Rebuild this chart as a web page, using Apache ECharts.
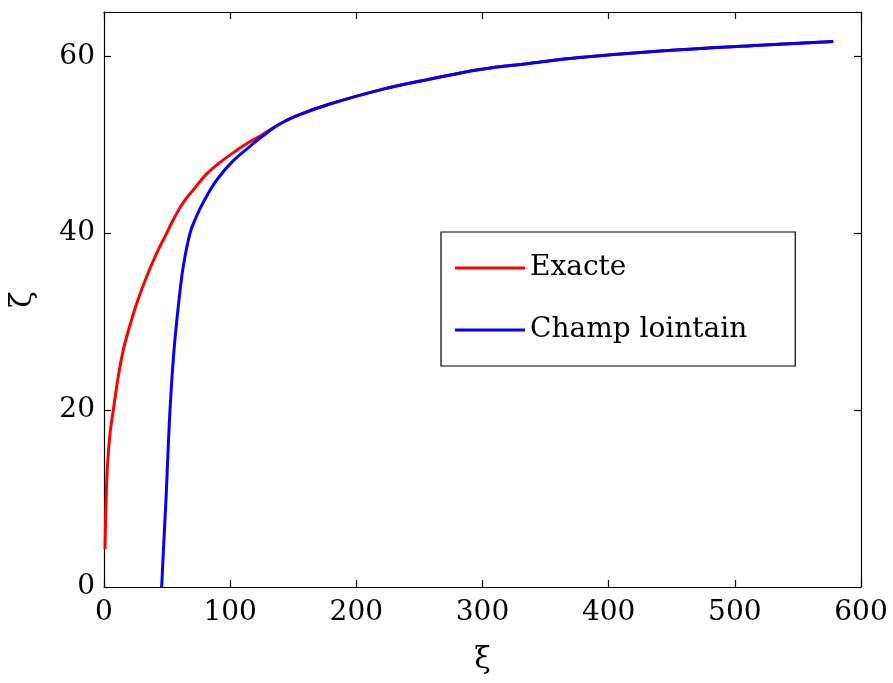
<!DOCTYPE html>
<html>
<head>
<meta charset="utf-8">
<script src="https://cdn.jsdelivr.net/npm/echarts@6/dist/echarts.min.js"></script>
<style>html,body{margin:0;padding:0;background:#fff;}#c{width:893px;height:683px;}</style>
</head>
<body>
<div id="c"></div>
<script>
// Series "Exacte"
const exactXi   = [0.8, 1.5, 2.7, 4.8, 7.4, 11, 15.3, 20, 27, 35, 42, 49.7, 56, 63, 72, 81.4, 92, 102.5, 113, 125, 140, 155, 179, 219, 258, 298, 338, 377, 441, 520, 578];
const exactZeta = [4.3, 9, 13.6, 17.4, 20, 23.5, 26.8, 29.3, 32.5, 35.5, 37.8, 40, 41.8, 43.5, 45.1, 46.7, 48.0, 49.1, 50.1, 51.1, 52.4, 53.4, 54.6, 56.2, 57.4, 58.5, 59.2, 59.85, 60.6, 61.25, 61.67];
// Series "Champ lointain"
const farXi   = [45.7, 47.1, 49.1, 52.3, 55.5, 59.5, 62.9, 68.2, 73, 78.7, 89.3, 102.5, 115.7, 125, 140, 155, 179, 219, 258, 298, 338, 377, 441, 520, 578];
const farZeta = [0, 4.2, 9.8, 20, 26.8, 32.5, 36.3, 40, 41.8, 43.5, 46.0, 48.2, 49.8, 50.9, 52.4, 53.4, 54.6, 56.2, 57.4, 58.5, 59.2, 59.85, 60.6, 61.25, 61.67];
const seriesNames = ['Exacte', 'Champ lointain'];
const xTicks = [0, 100, 200, 300, 400, 500, 600];
const yTicks = [0, 20, 40, 60];

const FONT = 'DejaVu Serif';
const zip = (a, b) => a.map((v, i) => [v, b[i]]);

const chart = echarts.init(document.getElementById('c'), null, {renderer: 'canvas'});
const axisLine = {show: true, onZero: false, lineStyle: {color: '#000', width: 1.2}};
const axisTick = {show: true, inside: true, length: 7, lineStyle: {color: '#000', width: 1.2}};
chart.setOption({
  animation: false,
  backgroundColor: '#fff',
  grid: {left: 104, right: 32, top: 12, bottom: 96, show: false, outerBoundsMode: 'none', containLabel: false},
  legend: {
    orient: 'vertical', left: 441, top: 232,
    padding: [18, 48, 18, 14], itemGap: 26, itemWidth: 70, itemHeight: 3,
    icon: 'rect',
    borderColor: '#000', borderWidth: 1.2, backgroundColor: '#fff',
    textStyle: {fontFamily: FONT, fontSize: 28, color: '#000', lineHeight: 36},
    data: seriesNames
  },
  xAxis: [{
    type: 'value', min: 0, max: 600, interval: 100, position: 'bottom',
    name: 'ξ', nameLocation: 'middle', nameGap: 58,
    nameTextStyle: {fontFamily: FONT, fontSize: 30, color: '#000'},
    axisLine, axisTick, splitLine: {show: false},
    axisLabel: {fontFamily: FONT, fontSize: 28, color: '#000', margin: 12,
      formatter: v => xTicks.includes(v) ? String(v) : ''}
  }, {
    type: 'value', min: 0, max: 600, interval: 100, position: 'top',
    axisLine, axisTick, splitLine: {show: false}, axisLabel: {show: false}
  }],
  yAxis: [{
    type: 'value', min: 0, max: 65, interval: 20, position: 'left',
    name: 'ζ', nameLocation: 'middle', nameGap: 66, nameRotate: 90,
    nameTextStyle: {fontFamily: FONT, fontSize: 30, color: '#000'},
    axisLine, axisTick, splitLine: {show: false},
    axisLabel: {fontFamily: FONT, fontSize: 28, color: '#000', margin: 9, showMaxLabel: false,
      formatter: v => yTicks.includes(v) ? String(v) : ''}
  }, {
    type: 'value', min: 0, max: 65, interval: 20, position: 'right',
    axisLine, axisTick, splitLine: {show: false}, axisLabel: {show: false}
  }],
  series: [{
    name: seriesNames[0], type: 'line', symbol: 'none', smooth: 0.4,
    lineStyle: {color: '#ff0000', width: 3}, itemStyle: {color: '#ff0000'},
    data: zip(exactXi, exactZeta), z: 2
  }, {
    name: seriesNames[1], type: 'line', symbol: 'none', smooth: 0.4,
    lineStyle: {color: '#0000ff', width: 3}, itemStyle: {color: '#0000ff'},
    data: zip(farXi, farZeta), z: 3
  }]
});
</script>
</body>
</html>
